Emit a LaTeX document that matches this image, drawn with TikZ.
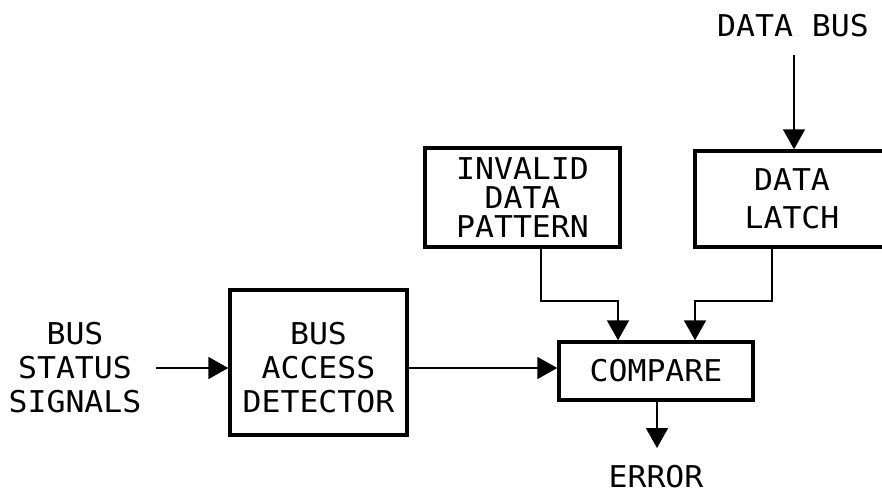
\documentclass[tikz,border=0pt]{standalone}
\usepackage{fontspec}
\newfontfamily\plotfont[FakeStretch=1.05]{DejaVu Sans Mono}
\usetikzlibrary{arrows.meta}

\tikzset{
  blockbox/.style={draw, line width=3.5pt, inner sep=0pt, fill=white},
  lbl/.style={inner sep=0pt, align=center, font=\plotfont\fontsize{30}{34}\selectfont},
  conn/.style={line width=2pt, -{Triangle[width=22pt,length=20pt]}}
}

\begin{document}
\begin{tikzpicture}[x=1pt, y=-1pt]
  \clip (0,0) rectangle (882,495);
  \fill[white] (0,0) rectangle (882,495);

  % blocks
  \node[blockbox, minimum width=195pt, minimum height=99pt,
        lbl, font=\plotfont\fontsize{30}{29}\selectfont] (pat) at (522.5,197.5)
        {INVALID\\DATA\\PATTERN};
  \node[blockbox, minimum width=194pt, minimum height=96pt,
        lbl, font=\plotfont\fontsize{30}{38}\selectfont] (latch) at (792,199)
        {DATA\\LATCH};
  \node[blockbox, minimum width=194pt, minimum height=58pt, lbl] (cmp) at (656,371)
        {COMPARE};
  \node[blockbox, minimum width=177pt, minimum height=145pt] (det) at (318.5,362.5) {};
  \node[lbl] (dettxt) at (318.5,368) {BUS\\ACCESS\\DETECTOR};

  % free labels
  \node[lbl] (sig) at (75,368) {BUS\\STATUS\\SIGNALS};
  \node[lbl] (bus) at (793,26) {DATA BUS};
  \node[lbl] (err) at (656,477) {ERROR};

  \coordinate (busin) at (794,55);
  \coordinate (errtip) at (657,448);

  % connectors
  \draw[conn] ([xshift=14pt]sig.east) -- (det.west |- sig.east);
  \draw[conn] (det.east |- 0,368) -- (cmp.west |- 0,368);
  \draw[conn] (busin) -- (busin |- latch.north);
  \draw[conn] ([xshift=18.5pt]pat.south) |- ([xshift=-38pt,yshift=39pt]cmp.north)
              -- ([xshift=-38pt]cmp.north);
  \draw[conn] ([xshift=-20pt]latch.south) |- ([xshift=39pt,yshift=39pt]cmp.north)
              -- ([xshift=39pt]cmp.north);
  \draw[conn] ([xshift=1pt]cmp.south) -- (errtip);
\end{tikzpicture}
\end{document}
